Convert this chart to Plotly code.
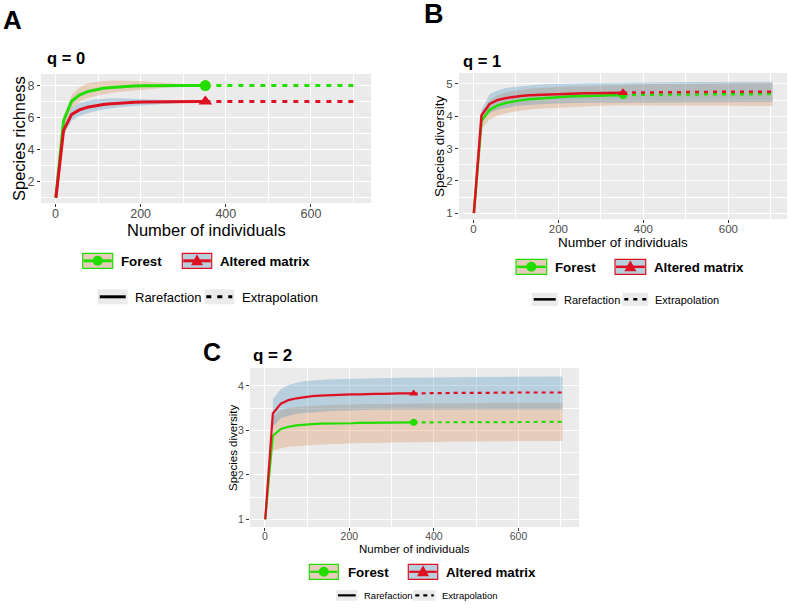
import plotly.graph_objects as go

W, H = 790, 609
FONT = "Liberation Sans, Arial, sans-serif"

# ---------------- data ----------------
sizes_rare = [1, 19, 38, 56, 75, 94, 112, 131, 149, 168, 186, 205, 224, 242, 261, 279, 298, 317, 335, 352]
sizes_ext = [352, 400, 450, 500, 550, 600, 650, 704]
band_sizes = [19, 38, 56, 75, 94, 112, 131, 149, 168, 186, 205, 224, 242, 261, 279, 298, 317, 335, 352,
              400, 450, 500, 550, 600, 650, 704]

# q = 0 (species richness)
forest_q0 = [1, 5.8, 7.02, 7.4, 7.62, 7.75, 7.83, 7.88, 7.92, 7.95, 7.97, 7.98, 7.99, 7.99, 8.0, 8.0, 8.0, 8.0, 8.0, 8.0]
forest_q0_ext = [8.0, 8.0, 8.0, 8.0, 8.0, 8.0, 8.0, 8.0]
forest_q0_up = [6.1, 7.4, 7.9, 8.12, 8.22, 8.28, 8.31, 8.32, 8.31, 8.29, 8.26, 8.22, 8.18, 8.14, 8.1, 8.07, 8.05, 8.03,
                8.02, 8.02, 8.02, 8.02, 8.02, 8.02, 8.02, 8.02]
forest_q0_lo = [5.45, 6.55, 6.95, 7.2, 7.35, 7.45, 7.53, 7.6, 7.66, 7.71, 7.76, 7.8, 7.84, 7.88, 7.91, 7.94, 7.96, 7.97,
                7.98, 7.98, 7.98, 7.98, 7.98, 7.98, 7.98, 7.98]
altered_q0 = [1, 5.2, 6.2, 6.48, 6.64, 6.75, 6.82, 6.87, 6.91, 6.94, 6.96, 6.97, 6.98, 6.99, 6.99, 7.0, 7.0, 7.0, 7.0, 7.0]
altered_q0_ext = [7.0, 7.0, 7.0, 7.0, 7.0, 7.0, 7.0, 7.0]
altered_q0_up = [5.5, 6.6, 6.9, 7.05, 7.13, 7.18, 7.2, 7.21, 7.2, 7.19, 7.17, 7.14, 7.12, 7.09, 7.06, 7.04, 7.03, 7.02,
                 7.01, 7.01, 7.01, 7.01, 7.01, 7.01, 7.01, 7.01]
altered_q0_lo = [4.9, 5.8, 6.08, 6.27, 6.4, 6.5, 6.58, 6.64, 6.69, 6.73, 6.77, 6.8, 6.84, 6.87, 6.9, 6.93, 6.96, 6.98,
                 6.99, 6.99, 6.99, 6.99, 6.99, 6.99, 6.99, 6.99]

# q = 1 (Shannon diversity)
forest_q1 = [1, 3.85, 4.2, 4.33, 4.41, 4.46, 4.5, 4.53, 4.55, 4.57, 4.58, 4.6, 4.61, 4.62, 4.63, 4.63, 4.64, 4.65, 4.65, 4.66]
forest_q1_ext = [4.66, 4.67, 4.67, 4.68, 4.68, 4.68, 4.69, 4.69]
forest_q1_up = [4.05, 4.5, 4.65, 4.73, 4.78, 4.82, 4.85, 4.87, 4.89, 4.9, 4.91, 4.92, 4.93, 4.94, 4.95, 4.95, 4.96, 4.96,
                4.97, 4.99, 5.0, 5.01, 5.02, 5.02, 5.03, 5.03]
forest_q1_lo = [3.62, 3.9, 4.02, 4.09, 4.14, 4.18, 4.21, 4.23, 4.25, 4.26, 4.28, 4.29, 4.3, 4.31, 4.32, 4.32, 4.33, 4.34,
                4.35, 4.34, 4.34, 4.33, 4.33, 4.33, 4.33, 4.32]
altered_q1 = [1, 4.03, 4.38, 4.5, 4.56, 4.6, 4.63, 4.65, 4.66, 4.67, 4.68, 4.69, 4.7, 4.7, 4.71, 4.71, 4.72, 4.72, 4.72, 4.73]
altered_q1_ext = [4.73, 4.74, 4.74, 4.75, 4.75, 4.76, 4.76, 4.76]
altered_q1_up = [4.2, 4.68, 4.8, 4.87, 4.91, 4.94, 4.96, 4.98, 4.99, 5.0, 5.01, 5.01, 5.02, 5.02, 5.03, 5.03, 5.03, 5.04,
                 5.04, 5.05, 5.05, 5.06, 5.06, 5.07, 5.07, 5.07]
altered_q1_lo = [3.85, 4.1, 4.2, 4.26, 4.3, 4.33, 4.35, 4.37, 4.38, 4.39, 4.4, 4.41, 4.41, 4.42, 4.42, 4.42, 4.43, 4.43,
                 4.43, 4.43, 4.43, 4.44, 4.44, 4.44, 4.44, 4.44]

# q = 2 (Simpson diversity)
forest_q2 = [1, 2.88, 3.03, 3.08, 3.11, 3.13, 3.14, 3.15, 3.15, 3.16, 3.16, 3.16, 3.17, 3.17, 3.17, 3.17, 3.18, 3.18, 3.18, 3.18]
forest_q2_ext = [3.18, 3.18, 3.18, 3.19, 3.19, 3.19, 3.19, 3.19]
forest_q2_up = [3.3, 3.45, 3.5, 3.52, 3.54, 3.55, 3.56, 3.57, 3.57, 3.58, 3.58, 3.59, 3.59, 3.59, 3.6, 3.6, 3.6, 3.6,
                3.6, 3.61, 3.61, 3.61, 3.62, 3.62, 3.62, 3.62]
forest_q2_lo = [2.55, 2.6, 2.63, 2.65, 2.66, 2.67, 2.68, 2.69, 2.7, 2.7, 2.71, 2.71, 2.72, 2.72, 2.72, 2.73, 2.73, 2.73,
                2.74, 2.74, 2.75, 2.75, 2.75, 2.76, 2.76, 2.76]
altered_q2 = [1, 3.38, 3.6, 3.68, 3.72, 3.75, 3.77, 3.78, 3.79, 3.8, 3.8, 3.81, 3.81, 3.82, 3.82, 3.82, 3.83, 3.83, 3.83, 3.83]
altered_q2_ext = [3.83, 3.84, 3.84, 3.84, 3.85, 3.85, 3.85, 3.85]
altered_q2_up = [3.7, 3.93, 4.02, 4.07, 4.1, 4.12, 4.13, 4.14, 4.15, 4.15, 4.16, 4.16, 4.17, 4.17, 4.17, 4.18, 4.18, 4.18,
                 4.18, 4.19, 4.19, 4.2, 4.2, 4.21, 4.21, 4.21]
altered_q2_lo = [3.08, 3.27, 3.33, 3.37, 3.39, 3.41, 3.42, 3.43, 3.44, 3.44, 3.45, 3.45, 3.46, 3.46, 3.46, 3.47, 3.47, 3.47,
                 3.47, 3.47, 3.47, 3.47, 3.47, 3.47, 3.47, 3.47]

x_ticks = [0, 200, 400, 600]
series_names = ["Forest", "Altered matrix"]
panel_letters = ["A", "B", "C"]
panel_titles = ["q = 0", "q = 1", "q = 2"]
y_titles = ["Species richness", "Species diversity", "Species diversity"]
x_title = "Number of individuals"
legend_style_labels = ["Rarefaction", "Extrapolation"]

# ---------------- styling ----------------
GREEN = "#22DD00"
RED = "#DD1122"
FILL_F = "rgba(218,132,72,0.30)"
FILL_A = "rgba(65,142,192,0.30)"
KEY_F = "rgb(230,204,186)"
KEY_A = "rgb(184,207,222)"


def fx(p):
    return p / W


def fy(p):
    return 1 - p / H


panels = [
    dict(dom=(41, 371, 74, 203), xr=[-34, 741], yr=[0.67, 8.72], ytick=2, yminor=1,
         f=(forest_q0, forest_q0_ext, forest_q0_up, forest_q0_lo),
         a=(altered_q0, altered_q0_ext, altered_q0_up, altered_q0_lo),
         lw=3, ms=(11, 12), tickfs=12.5, titlefs=16.5, xt=(206, 230.5), yt=(19, 139)),
    dict(dom=(459, 787, 73, 219), xr=[-34, 738], yr=[0.82, 5.34], ytick=1, yminor=0.5,
         f=(forest_q1, forest_q1_ext, forest_q1_up, forest_q1_lo),
         a=(altered_q1, altered_q1_ext, altered_q1_up, altered_q1_lo),
         lw=2.5, ms=(8, 9), tickfs=11.5, titlefs=13.5, xt=(623, 242.5), yt=(439.5, 146.5)),
    dict(dom=(250, 579, 368, 527), xr=[-35, 743], yr=[0.83, 4.40], ytick=1, yminor=0.5,
         f=(forest_q2, forest_q2_ext, forest_q2_up, forest_q2_lo),
         a=(altered_q2, altered_q2_ext, altered_q2_up, altered_q2_lo),
         lw=2.2, ms=(7, 8), tickfs=10.5, titlefs=11.5, xt=(414, 548.5), yt=(232.5, 447.5)),
]

fig = go.Figure()
layout = dict(width=W, height=H, margin=dict(l=0, r=0, t=0, b=0), paper_bgcolor="white",
              plot_bgcolor="#EBEBEB", showlegend=False, font=dict(family=FONT))

annotations = []
shapes = []


def text(x, y, s, size, bold=False, color="black", xanchor="left", angle=0):
    annotations.append(dict(x=fx(x), y=fy(y), xref="paper", yref="paper", text=("<b>%s</b>" % s) if bold else s,
                            showarrow=False, xanchor=xanchor, yanchor="middle", textangle=angle,
                            font=dict(size=size, color=color, family=FONT)))


for i, p in enumerate(panels):
    sfx = "" if i == 0 else str(i + 1)
    xa, ya = "x" + sfx, "y" + sfx
    x0, x1, y0, y1 = p["dom"]
    for key, fill in (("f", FILL_F), ("a", FILL_A)):
        rare, ext, up, lo = p[key]
        fig.add_trace(go.Scatter(x=band_sizes + band_sizes[::-1], y=up + lo[::-1], fill="toself",
                                 fillcolor=fill, line=dict(width=0), mode="lines",
                                 hoverinfo="skip", xaxis=xa, yaxis=ya))
    for key, color, sym, ms in (("f", GREEN, "circle", p["ms"][0]), ("a", RED, "triangle-up", p["ms"][1])):
        rare, ext, up, lo = p[key]
        fig.add_trace(go.Scatter(x=sizes_ext, y=ext, mode="lines",
                                 line=dict(color=color, width=p["lw"],
                                           dash="%dpx,%dpx" % (round(p["lw"] * 1.8), round(p["lw"] * 2))),
                                 xaxis=xa, yaxis=ya))
        fig.add_trace(go.Scatter(x=sizes_rare, y=rare, mode="lines",
                                 line=dict(color=color, width=p["lw"]), xaxis=xa, yaxis=ya))
        fig.add_trace(go.Scatter(x=[sizes_rare[-1]], y=[rare[-1]], mode="markers",
                                 marker=dict(color=color, size=ms, symbol=sym), xaxis=xa, yaxis=ya))

    axcommon = dict(showgrid=True, gridcolor="white", gridwidth=1.3, zeroline=False, showline=False,
                    ticks="outside", ticklen=3, tickwidth=1, tickcolor="#333333",
                    tickfont=dict(size=p["tickfs"], color="#4D4D4D", family=FONT))
    layout["xaxis" + sfx] = dict(axcommon, domain=[fx(x0), fx(x1)], range=p["xr"], tickvals=x_ticks,
                                 anchor=ya, ticklabelstandoff=-4,
                                 minor=dict(dtick=100, tick0=0, showgrid=True, gridcolor="white",
                                            gridwidth=0.6, ticks=""))
    layout["yaxis" + sfx] = dict(axcommon, domain=[fy(y1), fy(y0)], range=p["yr"], dtick=p["ytick"], tick0=0,
                                 anchor=xa, minor=dict(dtick=p["yminor"], tick0=0, showgrid=True, gridcolor="white",
                                                       gridwidth=0.6, ticks=""))
    # axis titles
    text(p["xt"][0], p["xt"][1], x_title, p["titlefs"], xanchor="center")
    text(p["yt"][0], p["yt"][1], y_titles[i], p["titlefs"], xanchor="center", angle=-90)

# panel letters and q titles
text(1, 20, panel_letters[0], 26, True)
text(422, 14, panel_letters[1], 27, True)
text(201, 352, panel_letters[2], 25, True)
text(45, 58, panel_titles[0], 16.5, True)
text(461, 61, panel_titles[1], 16.5, True)
text(251, 355, panel_titles[2], 17, True)


def rect(x0, y0, x1, y1, fill, line_color=None, lw=1):
    shapes.append(dict(type="rect", xref="paper", yref="paper", x0=fx(x0), x1=fx(x1), y0=fy(y1), y1=fy(y0),
                       fillcolor=fill, line=dict(color=line_color or fill, width=lw if line_color else 0),
                       layer="above"))


def hline(x0, x1, y, color, width, dash="solid"):
    shapes.append(dict(type="line", xref="paper", yref="paper", x0=fx(x0), x1=fx(x1), y0=fy(y), y1=fy(y),
                       line=dict(color=color, width=width, dash=dash), layer="above"))


def circle(cx, cy, r, color):
    shapes.append(dict(type="circle", xref="paper", yref="paper", x0=fx(cx - r), x1=fx(cx + r),
                       y0=fy(cy + r), y1=fy(cy - r), fillcolor=color, line=dict(color=color, width=0),
                       layer="above"))


def triangle(cx, cy, w, h, color):
    path = "M %f,%f L %f,%f L %f,%f Z" % (fx(cx - w / 2), fy(cy + h / 2), fx(cx + w / 2), fy(cy + h / 2),
                                          fx(cx), fy(cy - h / 2))
    shapes.append(dict(type="path", xref="paper", yref="paper", path=path, fillcolor=color,
                       line=dict(color=color, width=0), layer="above"))


legends = [
    dict(fk=(82.7, 112.7), ak=(182.3, 211.7), r1=(253.3, 268.3), ft=119.3, at=217.7, fs1=13.3,
         rk=(97.7, 127.7), ek=(204.3, 234.3), r2=(289.3, 304.3), rt=133.3, et=240, fs2=13, lw=3, mr=5),
    dict(fk=(516, 546.7), ak=(615, 645.7), r1=(259.3, 274.3), ft=553.3, at=651.7, fs1=13.3,
         rk=(531.7, 557.7), ek=(622.3, 648.3), r2=(292.7, 306), rt=562.3, et=652.7, fs2=11, lw=2.5, mr=5),
    dict(fk=(309.3, 338.3), ak=(408.3, 437.7), r1=(564.3, 579.3), ft=345.7, at=444, fs1=13.3,
         rk=(336, 357.7), ek=(413.3, 435.7), r2=(590, 600.7), rt=361.7, et=440, fs2=9.5, lw=2.2, mr=5),
]

for L in legends:
    ya, yb = L["r1"]
    cy = (ya + yb) / 2
    rect(L["fk"][0], ya, L["fk"][1], yb, KEY_F, GREEN, 1.2)
    hline(L["fk"][0] + 1, L["fk"][1] - 1, cy, GREEN, L["lw"])
    circle((L["fk"][0] + L["fk"][1]) / 2, cy, L["mr"], GREEN)
    rect(L["ak"][0], ya, L["ak"][1], yb, KEY_A, RED, 1.2)
    hline(L["ak"][0] + 1, L["ak"][1] - 1, cy, RED, L["lw"])
    triangle((L["ak"][0] + L["ak"][1]) / 2, cy - 1, 12, 11, RED)
    text(L["ft"], cy + 0.5, series_names[0], L["fs1"], True)
    text(L["at"], cy + 0.5, series_names[1], L["fs1"], True)
    ya, yb = L["r2"]
    cy = (ya + yb) / 2
    rect(L["rk"][0], ya, L["rk"][1], yb, "#EBEBEB")
    hline(L["rk"][0] + 2, L["rk"][1] - 2, cy, "black", L["lw"])
    rect(L["ek"][0], ya, L["ek"][1], yb, "#EBEBEB")
    hline(L["ek"][0] + 2, L["ek"][1] - 2, cy, "black", L["lw"],
          dash="%dpx,%dpx" % (round(L["lw"] * 1.8), round(L["lw"] * 2)))
    text(L["rt"], cy + 0.5, legend_style_labels[0], L["fs2"])
    text(L["et"], cy + 0.5, legend_style_labels[1], L["fs2"])

layout["annotations"] = annotations
layout["shapes"] = shapes
fig.update_layout(**layout)
fig.write_html("out.html")
